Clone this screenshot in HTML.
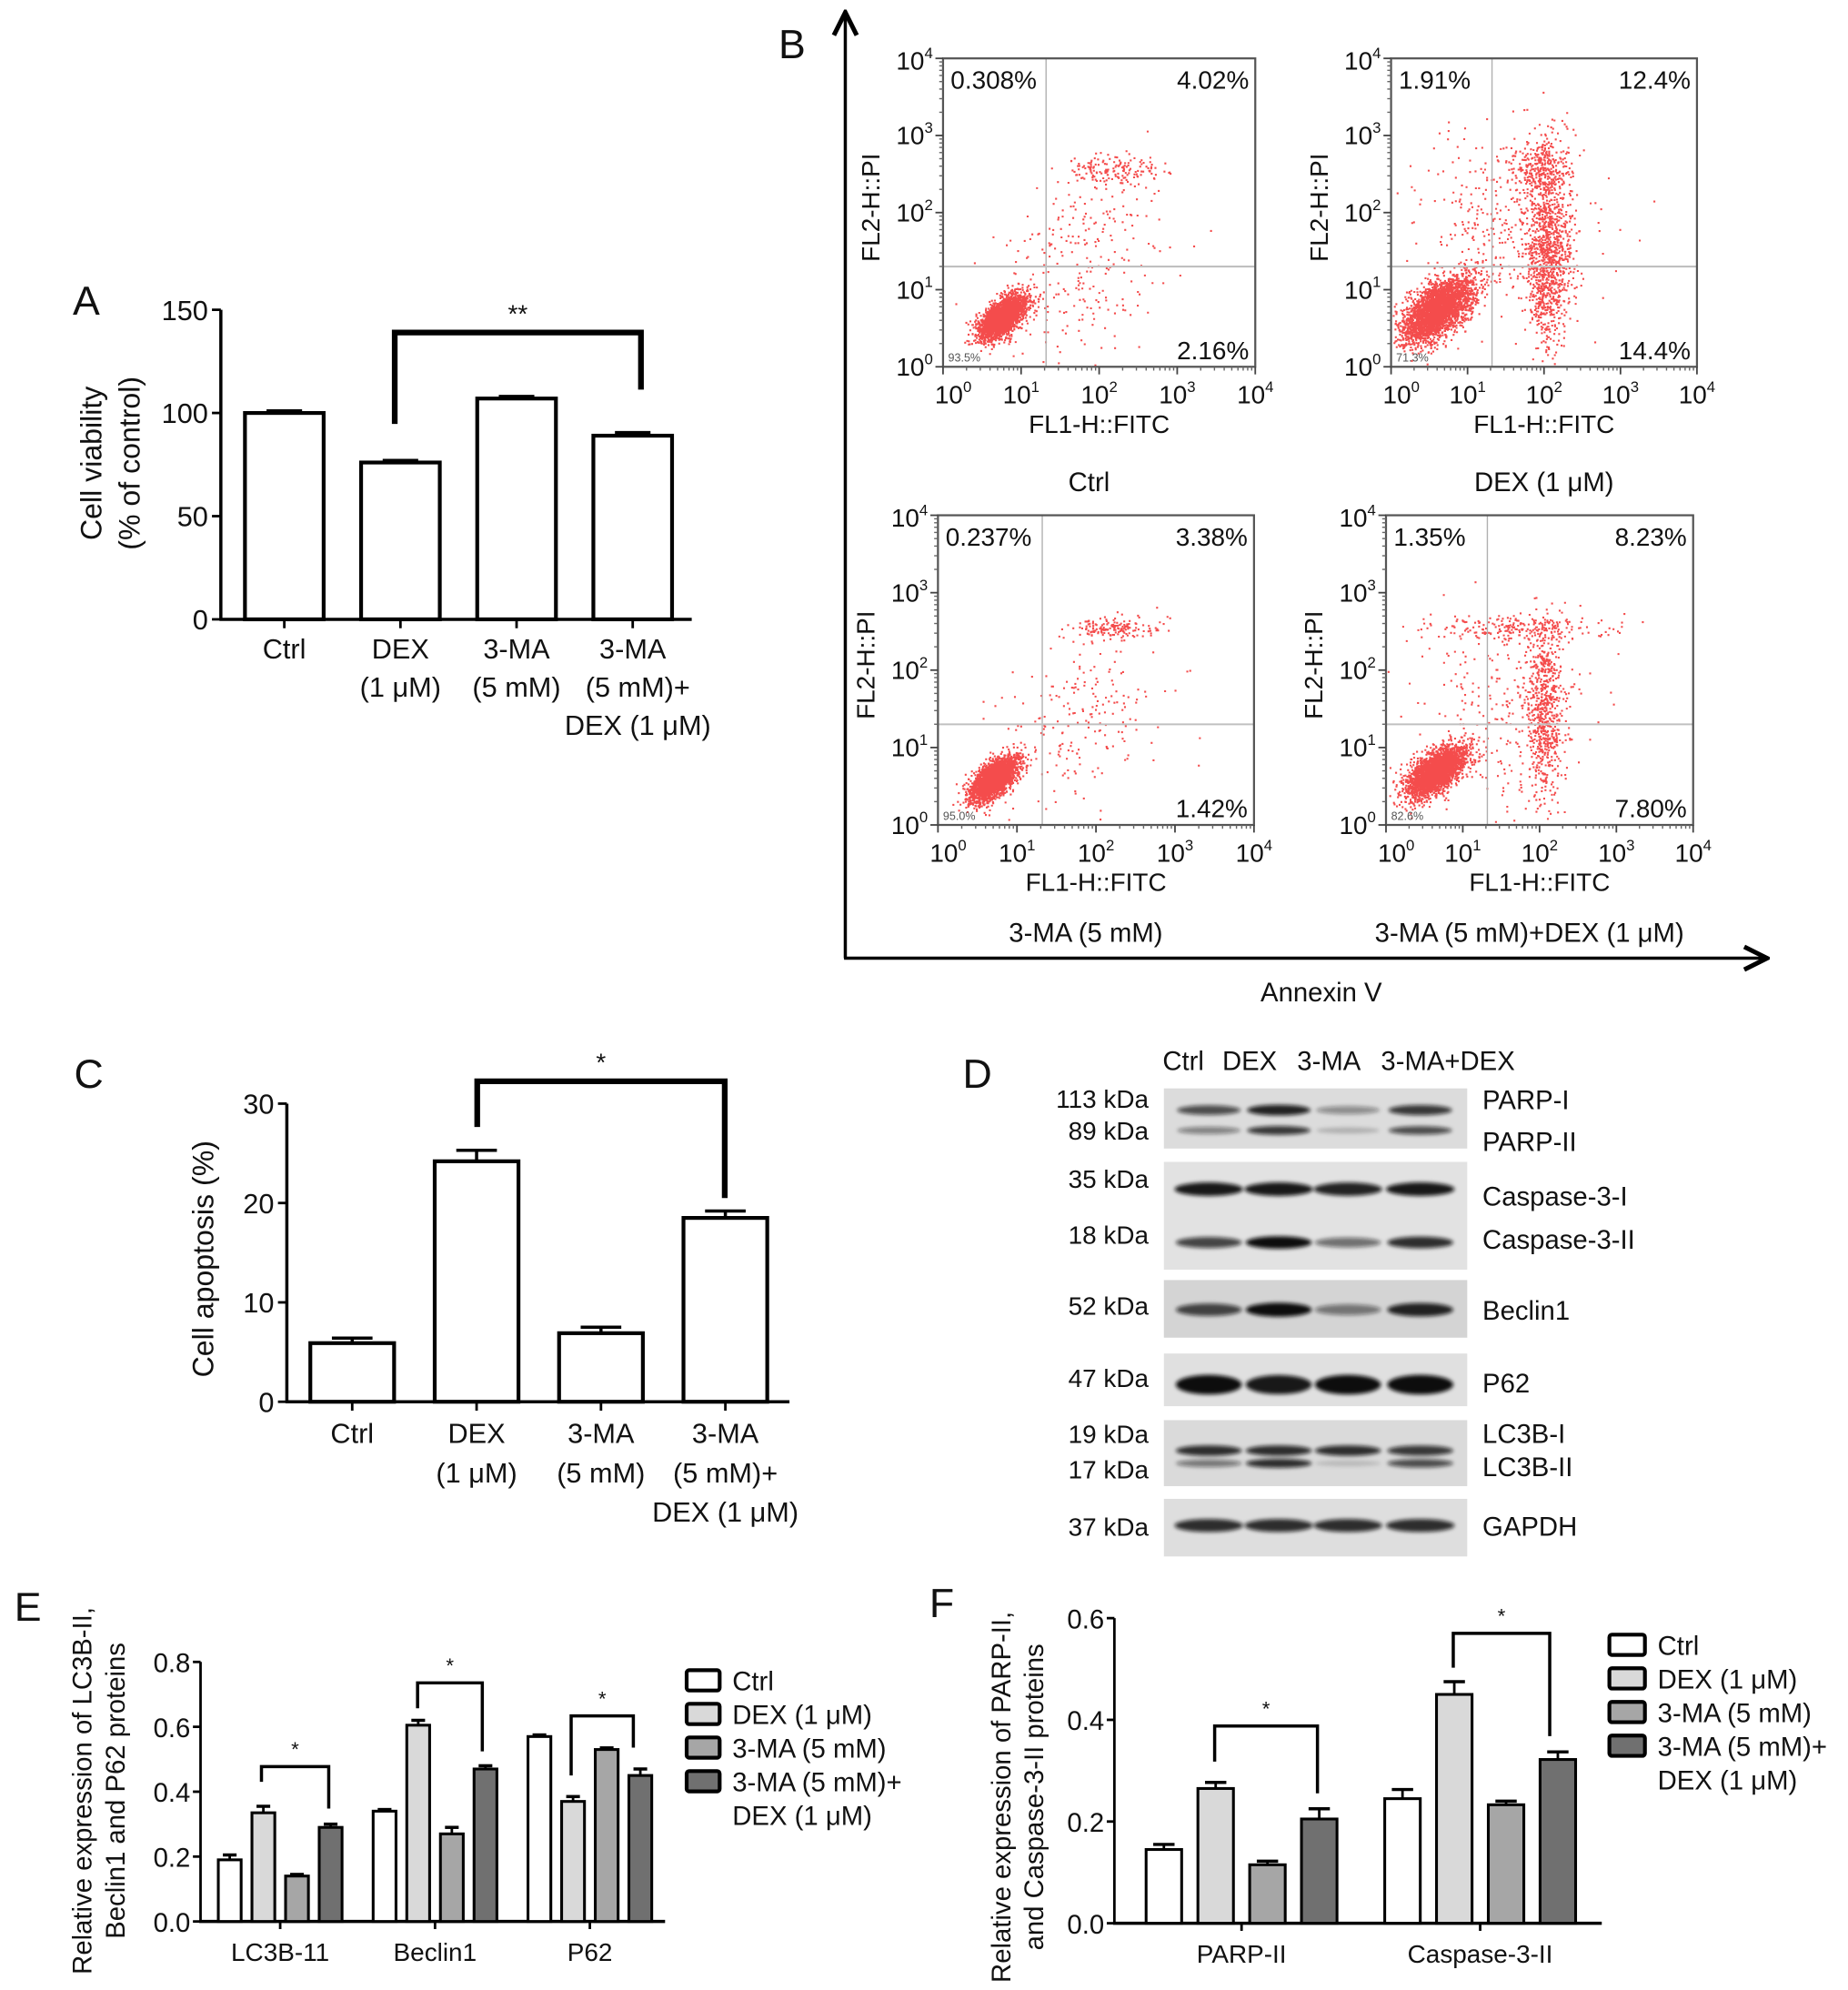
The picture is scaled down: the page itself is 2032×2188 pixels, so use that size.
<!DOCTYPE html>
<html><head><meta charset="utf-8"><style>
html,body{margin:0;padding:0;background:#fff;}
svg{display:block;font-family:"Liberation Sans",Arial,sans-serif;}
</style></head><body>
<svg id="fig" width="2032" height="2188" viewBox="0 0 1456 1568" preserveAspectRatio="none" xmlns="http://www.w3.org/2000/svg">
<defs>
<filter id="blur" x="-20%" y="-200%" width="140%" height="500%"><feGaussianBlur stdDeviation="1.6"/></filter>
<marker id="arr" viewBox="0 0 10 10" refX="8" refY="5" markerWidth="9" markerHeight="9" orient="auto"><path d="M1,1 L9,5 L1,9" fill="none" stroke="#000" stroke-width="1.6"/></marker>
</defs>
<g id="root"></g>
</svg>
<script>
// ---------- data ----------
const groupsAC = ["Ctrl","DEX","3-MA","3-MA+DEX"];
const viabilityVals = [100, 76, 107, 89];
const viabilityErr = [1, 1, 1, 1.5];
const viabilityTicks = [0, 50, 100, 150];
const apoptosisVals = [5.9, 24.2, 6.9, 18.5];
const apoptosisErr = [0.5, 1.1, 0.6, 0.7];
const apoptosisTicks = [0, 10, 20, 30];
const eCategories = ["LC3B-11","Beclin1","P62"];
const eCtrl = [0.19, 0.34, 0.57];
const eDex = [0.335, 0.605, 0.37];
const eMa = [0.14, 0.27, 0.53];
const eMaDex = [0.29, 0.47, 0.45];
const eCtrlErr = [0.015, 0.005, 0.005];
const eDexErr = [0.02, 0.015, 0.015];
const eMaErr = [0.005, 0.02, 0.005];
const eMaDexErr = [0.01, 0.01, 0.02];
const eTicks = [0, 0.2, 0.4, 0.6, 0.8];
const fCategories = ["PARP-II","Caspase-3-II"];
const fCtrl = [0.145, 0.245];
const fDex = [0.265, 0.45];
const fMa = [0.115, 0.233];
const fMaDex = [0.205, 0.322];
const fCtrlErr = [0.01, 0.018];
const fDexErr = [0.012, 0.025];
const fMaErr = [0.007, 0.007];
const fMaDexErr = [0.02, 0.015];
const fTicks = [0, 0.2, 0.4, 0.6];
const legendLabels = ["Ctrl","DEX (1 \u03bcM)","3-MA (5 mM)","3-MA (5 mM)+"];
// flow clusters: [cx, cy (log decades), sx, sy, n, corr]
const flowCtrl = [[0.75,0.65,0.15,0.14,2600,0.6],[1.8,1.3,0.55,0.6,260,0.3],[2.2,2.55,0.3,0.1,160,0]];
const flowDex = [[0.6,0.75,0.23,0.21,3200,0.6],[2.05,1.5,0.14,0.62,1100,0],[1.5,1.9,0.6,0.6,380,0],[1.95,2.6,0.18,0.2,240,0]];
const flowMa = [[0.7,0.6,0.15,0.14,2600,0.6],[1.8,1.3,0.5,0.6,200,0.3],[2.25,2.55,0.3,0.08,160,0]];
const flowMaDex = [[0.65,0.7,0.19,0.16,2800,0.6],[2.05,1.45,0.13,0.6,700,0],[1.7,2.55,0.6,0.09,220,0],[1.5,1.6,0.6,0.6,220,0]];
const flowPct = [["0.308%","4.02%","2.16%","93.5%"],["1.91%","12.4%","14.4%","71.3%"],["0.237%","3.38%","1.42%","95.0%"],["1.35%","8.23%","7.80%","82.6%"]];
const flowTitles = ["Ctrl","DEX (1 \u03bcM)","3-MA (5 mM)","3-MA (5 mM)+DEX (1 \u03bcM)"];
const bandPARP1 = [0.7,0.9,0.4,0.8];
const bandPARP2 = [0.45,0.8,0.2,0.7];
const bandCasp1 = [0.95,0.95,0.9,0.95];
const bandCasp2 = [0.75,1,0.55,0.85];
const bandBeclin = [0.75,1,0.5,0.9];
const bandP62 = [1,0.95,1,1];
const bandLC3I = [0.85,0.85,0.85,0.8];
const bandLC3II = [0.5,0.85,0.15,0.7];
const bandGAPDH = [0.85,0.85,0.85,0.85];

// ---------- helpers ----------
const NS = "http://www.w3.org/2000/svg";
const root = document.getElementById("root");
function el(tag, attrs, parent){
  const e = document.createElementNS(NS, tag);
  for (const k in attrs) e.setAttribute(k, attrs[k]);
  (parent||root).appendChild(e);
  return e;
}
function txt(x,y,s,size,anchor,parent,extra){
  const t = el("text", Object.assign({x:x,y:y,"font-size":size,"text-anchor":anchor||"start",fill:"#111"}, extra||{}), parent);
  t.textContent = s;
  return t;
}
function line(x1,y1,x2,y2,w,parent,col){
  return el("line",{x1:x1,y1:y1,x2:x2,y2:y2,stroke:col||"#000","stroke-width":w},parent);
}
const fills = ["#ffffff","#d9d9d9","#a6a6a6","#707070"];

function bracket(g,x1,y1,yTop,x2,y2,w,star,starSize){
  el("path",{d:`M${x1},${y1} V${yTop} H${x2} V${y2}`,fill:"none",stroke:"#000","stroke-width":w},g);
  const s = txt((x1+x2)/2, yTop-8, star, starSize, "middle", g);
  
  
}

// ---------- Panel A ----------
(function(){
  const g = el("g",{});  
  const ax = 174, y0 = 488, ppu = 81.3/50;
  const Y = v => y0 - v*ppu;
  const pl = txt(68,248,"A",32,"middle",g);  
  line(ax,Y(150),ax,y0+1,2.5,g); line(ax-1,y0,545,y0,2.5,g);
  viabilityTicks.forEach(v=>{ line(ax-7,Y(v),ax,Y(v),2,g); const t=txt(164,Y(v)+8,String(v),22,"end",g);   });
  const labs = [["Ctrl"],["DEX","(1 \u03bcM)"],["3-MA","(5 mM)"],["3-MA","(5 mM)+","DEX (1 \u03bcM)"]];
  viabilityVals.forEach((v,i)=>{
    const x = 193 + i*91.5, w = 62;
    const r = el("rect",{x:x,y:Y(v),width:w,height:y0-Y(v),fill:"#fff",stroke:"#000","stroke-width":3},g);
     
    line(x+w/2,Y(v),x+w/2,Y(v+viabilityErr[i]),2.5,g); line(x+w/2-14,Y(v+viabilityErr[i]),x+w/2+14,Y(v+viabilityErr[i]),2.5,g);
    line(x+w/2,y0,x+w/2,y0+7,2,g);
    labs[i].forEach((s,j)=>{ const t=txt(x+w/2+(j>0&&i==3?4:0),519+j*30,s,22,"middle",g);   });
  });
  const xl = el("text",{transform:"translate(80,365) rotate(-90)","font-size":23,"text-anchor":"middle",fill:"#111"},g); xl.textContent="Cell viability";
   
  const xl2 = el("text",{transform:"translate(110,365) rotate(-90)","font-size":23,"text-anchor":"middle",fill:"#111"},g); xl2.textContent="(% of control)";
   
  bracket(g,311,334,262,505,307,4.5,"**",20);
})();

// ---------- Panel C ----------
(function(){
  const g = el("g",{});  
  const ax = 226, y0 = 1104.5, ppu = (1104.5-869.6)/30;
  const Y = v => y0 - v*ppu;
  const pl = txt(70,857,"C",32,"middle",g);  
  line(ax,Y(30),ax,y0+1,2.5,g); line(ax-1,y0,622,y0,2.5,g);
  apoptosisTicks.forEach(v=>{ line(ax-7,Y(v),ax,Y(v),2,g); const t=txt(216,Y(v)+8,String(v),22,"end",g);   });
  const labs = [["Ctrl"],["DEX","(1 \u03bcM)"],["3-MA","(5 mM)"],["3-MA","(5 mM)+","DEX (1 \u03bcM)"]];
  apoptosisVals.forEach((v,i)=>{
    const x = 244.5 + i*98, w = 66;
    const r = el("rect",{x:x,y:Y(v),width:w,height:y0-Y(v),fill:"#fff",stroke:"#000","stroke-width":3},g);
     
    line(x+w/2,Y(v),x+w/2,Y(v+apoptosisErr[i]),2.5,g); line(x+w/2-16,Y(v+apoptosisErr[i]),x+w/2+16,Y(v+apoptosisErr[i]),2.5,g);
    line(x+w/2,y0,x+w/2,y0+7,2,g);
    labs[i].forEach((s,j)=>{ const t=txt(x+w/2,1137+j*31,s,22,"middle",g);   });
  });
  const yl = el("text",{transform:"translate(168,992) rotate(-90)","font-size":23,"text-anchor":"middle",fill:"#111"},g); yl.textContent="Cell apoptosis (%)";
   
  bracket(g,376,888,852,571,944,4.5,"*",20);
})();

// ---------- Panel B: flow ----------
(function(){
  const g = el("g",{});  
  const pl = txt(624,46,"B",32,"middle",g);  
  const va = el("line",{x1:666,y1:755,x2:666,y2:12,stroke:"#000","stroke-width":2.5,"marker-end":"url(#arr)"},g);
   
  const ha = el("line",{x1:665,y1:755,x2:1390,y2:755,stroke:"#000","stroke-width":2.5,"marker-end":"url(#arr)"},g);
   
  const an = txt(1041,789,"Annexin V",21,"middle",g);  
  const boxes = [[743,46,989,289],[1096,46,1337,289],[739,406,988,650],[1092,406,1334,650]];
  const flows = [flowCtrl, flowDex, flowMa, flowMaDex];
  let seed = 12345;
  function rnd(){ seed |= 0; seed = seed + 0x6D2B79F5 | 0; let t = Math.imul(seed ^ seed>>>15, 1|seed); t = t + Math.imul(t ^ t>>>7, 61|t) ^ t; return ((t ^ t>>>14)>>>0)/4294967296; }
  function gauss(){ let u=0,v=0; while(u===0)u=rnd(); v=rnd(); return Math.sqrt(-2*Math.log(u))*Math.cos(2*Math.PI*v); }
  boxes.forEach((b,k)=>{
    const [x1,y1,x2,y2] = b;
    const pg = el("g",{},g);  
    const sx = (x2-x1)/4, sy = (y2-y1)/4;
    const X = d => x1 + d*sx, Yv = d => y2 - d*sy;
    let d = "";
    flows[k].forEach(c=>{
      const [cx,cy,ssx,ssy,n,corr] = c;
      for(let i=0;i<n;i++){
        const a = gauss(), bq = gauss();
        const u = cx + ssx*a, v = cy + ssy*(corr*a + Math.sqrt(1-corr*corr)*bq);
        if(u<0.02||u>3.98||v<0.02||v>3.98) continue;
        d += `M${X(u).toFixed(1)},${Yv(v).toFixed(1)}h1.5v1.5h-1.5z`;
      }
    });
    const dots = el("path",{d:d,fill:"#f01010","fill-opacity":0.75},pg);
     
    line(X(1.32),y1,X(1.32),y2,1,pg,"#b0b0b0");
    line(x1,Yv(1.3),x2,Yv(1.3),1.5,pg,"#c0c0c0");
    const fr = el("rect",{x:x1,y:y1,width:x2-x1,height:y2-y1,fill:"none",stroke:"#555","stroke-width":1.6},pg);
     
    for(let dec=0;dec<=4;dec++){
      line(X(dec),y2,X(dec),y2+6,1.3,pg,"#444"); line(x1-6,Yv(dec),x1,Yv(dec),1.3,pg,"#444");
      if(dec<4) for(let m=2;m<10;m++){ const o=Math.log10(m); line(X(dec+o),y2,X(dec+o),y2+3,1,pg,"#666"); line(x1-3,Yv(dec+o),x1,Yv(dec+o),1,pg,"#666"); }
      const tx = el("text",{x:X(dec)+(dec==0?8:0),y:y2+29,"font-size":20,"text-anchor":"middle",fill:"#111"},pg);
      tx.textContent="10"; const sp=el("tspan",{dy:-9,"font-size":12},tx); sp.textContent=String(dec);
       
      const ty = el("text",{x:x1-8,y:Yv(dec)+7+(dec==4?2:0),"font-size":20,"text-anchor":"end",fill:"#111"},pg);
      ty.textContent="10"; const sp2=el("tspan",{dy:-9,"font-size":12},ty); sp2.textContent=String(dec);
       
    }
    const xt = txt((x1+x2)/2,y2+52,"FL1-H::FITC",20,"middle",pg);  
    const yt = el("text",{transform:`translate(${x1-50},${(y1+y2)/2-4}) rotate(-90)`,"font-size":20,"text-anchor":"middle",fill:"#111"},pg);
    yt.textContent="FL2-H::PI";  
    const p = flowPct[k];
    const q1=txt(x1+6,y1+24,p[0],20,"start",pg);  
    const q2=txt(x2-5,y1+24,p[1],20,"end",pg);  
    const q3=txt(x2-5,y2-6,p[2],20,"end",pg);  
    const q4=txt(x1+4,y2-4,p[3],9,"start",pg,{fill:"#555"});  
    const tt = txt((x1+x2)/2 + (k==1?0:-8), k<2?387:742, flowTitles[k],21,"middle",pg);
     
  });
})();

// ---------- Panel D: western blot ----------
(function(){
  const g = el("g",{});  
  const pl = txt(770,857,"D",32,"middle",g);  
  const hdr = [["Ctrl",916],["DEX",963],["3-MA",1022],["3-MA+DEX",1088]];
  hdr.forEach(h=>{ const t=txt(h[1],843,h[0],21,"start",g);   });
  const boxes = [[857.6,905,"#dcdcdc"],[915.5,1000.4,"#e2e2e2"],[1008.6,1054,"#d4d4d4"],[1066.5,1108,"#e0e0e0"],[1119,1171,"#dadada"],[1181,1226.4,"#dedede"]];
  boxes.forEach(b=>{ const r=el("rect",{x:917,y:b[0],width:239,height:b[1]-b[0],fill:b[2]},g);   });
  const lanes = [952.4,1007.5,1062,1119];
  const bands = [[bandPARP1,874.7,4,25],[bandPARP2,890.7,3.5,25],[bandCasp1,937,5,27],[bandCasp2,979,4.5,26],[bandBeclin,1032,5,26],[bandP62,1091,7,26],[bandLC3I,1143,4,26],[bandLC3II,1153,3.5,26],[bandGAPDH,1202,5,27]];
  bands.forEach(b=>{
    b[0].forEach((v,i)=>{
      const e = el("ellipse",{cx:lanes[i],cy:b[1],rx:b[3],ry:b[2]*(0.6+0.5*v),fill:"#111","fill-opacity":v,filter:"url(#blur)"},g);
       
    });
  });
  const kda = [["113 kDa",866],["89 kDa",891],["35 kDa",929],["18 kDa",973],["52 kDa",1029],["47 kDa",1086],["19 kDa",1130],["17 kDa",1158],["37 kDa",1203]];
  kda.forEach(k=>{ const t=txt(905,k[1]+7,k[0],20,"end",g);   });
  const prot = [["PARP-I",866],["PARP-II",899],["Caspase-3-I",942],["Caspase-3-II",976],["Beclin1",1032],["P62",1089],["LC3B-I",1129],["LC3B-II",1155],["GAPDH",1202]];
  prot.forEach(k=>{ const t=txt(1168,k[1]+8,k[0],21,"start",g);   });
})();

// ---------- grouped bar chart helper ----------
function grouped(cfg){
  const g = cfg.g;
  const Y = v => cfg.y0 - v*cfg.ppu;
  line(cfg.ax,Y(cfg.ticks[cfg.ticks.length-1]),cfg.ax,cfg.y0+1,2,g);
  line(cfg.ax-1,cfg.y0,cfg.axEnd,cfg.y0,2.5,g);
  cfg.ticks.forEach(v=>{ line(cfg.ax-6,Y(v),cfg.ax,Y(v),2,g); const t=txt(cfg.ax-8,Y(v)+8,v.toFixed(1),21,"end",g);   });
  cfg.cats.forEach((c,gi)=>{
    const gx = cfg.start + gi*cfg.gstep;
    cfg.series.forEach((s,si)=>{
      const v = s[gi], e = cfg.errs[si][gi];
      const x = gx + si*cfg.step, w = cfg.w;
      const r = el("rect",{x:x,y:Y(v),width:w,height:cfg.y0-Y(v),fill:fills[si],stroke:"#000","stroke-width":2.2},g);
       
      line(x+w/2,Y(v),x+w/2,Y(v+e),2,g); line(x+w/2-w*0.3,Y(v+e),x+w/2+w*0.3,Y(v+e),2.5,g);
    });
    const cx = gx + (3*cfg.step+cfg.w)/2;
    line(cx,cfg.y0,cx,cfg.y0+6,2,g);
    const t=txt(cx,cfg.y0+31,c,20,"middle",g);  
  });
  legendLabels.forEach((s,i)=>{
    const ly = cfg.legY + i*cfg.legStep;
    const r = el("rect",{x:cfg.legX,y:ly-8,width:cfg.legW,height:16,rx:2,fill:fills[i],stroke:"#000","stroke-width":3},g);
     
    const t = txt(cfg.legX+cfg.legW+10,ly+8,s,21,"start",g);  
  });
  const t2 = txt(cfg.legX+cfg.legW+10,cfg.legY+3*cfg.legStep+8+cfg.legStep,"DEX (1 \u03bcM)",21,"start",g);
   
  return Y;
}

// ---------- Panel E ----------
(function(){
  const g = el("g",{});  
  const pl = txt(22,1277,"E",32,"middle",g);  
  grouped({g:g,ax:158,axEnd:524,y0:1514,ppu:(1514-1309.5)/0.8,ticks:eTicks,cats:eCategories,series:[eCtrl,eDex,eMa,eMaDex],errs:[eCtrlErr,eDexErr,eMaErr,eMaDexErr],start:172,gstep:122,step:26.5,w:18,legX:541,legY:1324,legStep:26.5,legW:26});
  const a = el("text",{transform:"translate(72,1411) rotate(-90)","font-size":21,"text-anchor":"middle",fill:"#111"},g); a.textContent="Relative expression of LC3B-II,";
   
  const b = el("text",{transform:"translate(98,1411) rotate(-90)","font-size":21,"text-anchor":"middle",fill:"#111"},g); b.textContent="Beclin1 and P62 proteins";
   
  bracket(g,206,1404,1392,259,1425,2.5,"*",16);
  bracket(g,329,1346,1326,380,1380,2.5,"*",16);
  bracket(g,450,1399,1352,499,1377,2.5,"*",16);
})();

// ---------- Panel F ----------
(function(){
  const g = el("g",{});  
  const pl = txt(742,1274,"F",32,"middle",g);  
  grouped({g:g,ax:878,axEnd:1262,y0:1515.4,ppu:(1515.4-1275)/0.6,ticks:fTicks,cats:fCategories,series:[fCtrl,fDex,fMa,fMaDex],errs:[fCtrlErr,fDexErr,fMaErr,fMaDexErr],start:903,gstep:188,step:40.8,w:28,legX:1268,legY:1296,legStep:26.5,legW:28});
  const a = el("text",{transform:"translate(796,1416) rotate(-90)","font-size":21,"text-anchor":"middle",fill:"#111"},g); a.textContent="Relative expression of PARP-II,";
   
  const b = el("text",{transform:"translate(822,1416) rotate(-90)","font-size":21,"text-anchor":"middle",fill:"#111"},g); b.textContent="and Caspase-3-II proteins";
   
  bracket(g,957,1388,1360,1038,1413,2.5,"*",16);
  bracket(g,1145,1314,1287,1221,1368,2.5,"*",16);
})();
</script>
</body></html>
